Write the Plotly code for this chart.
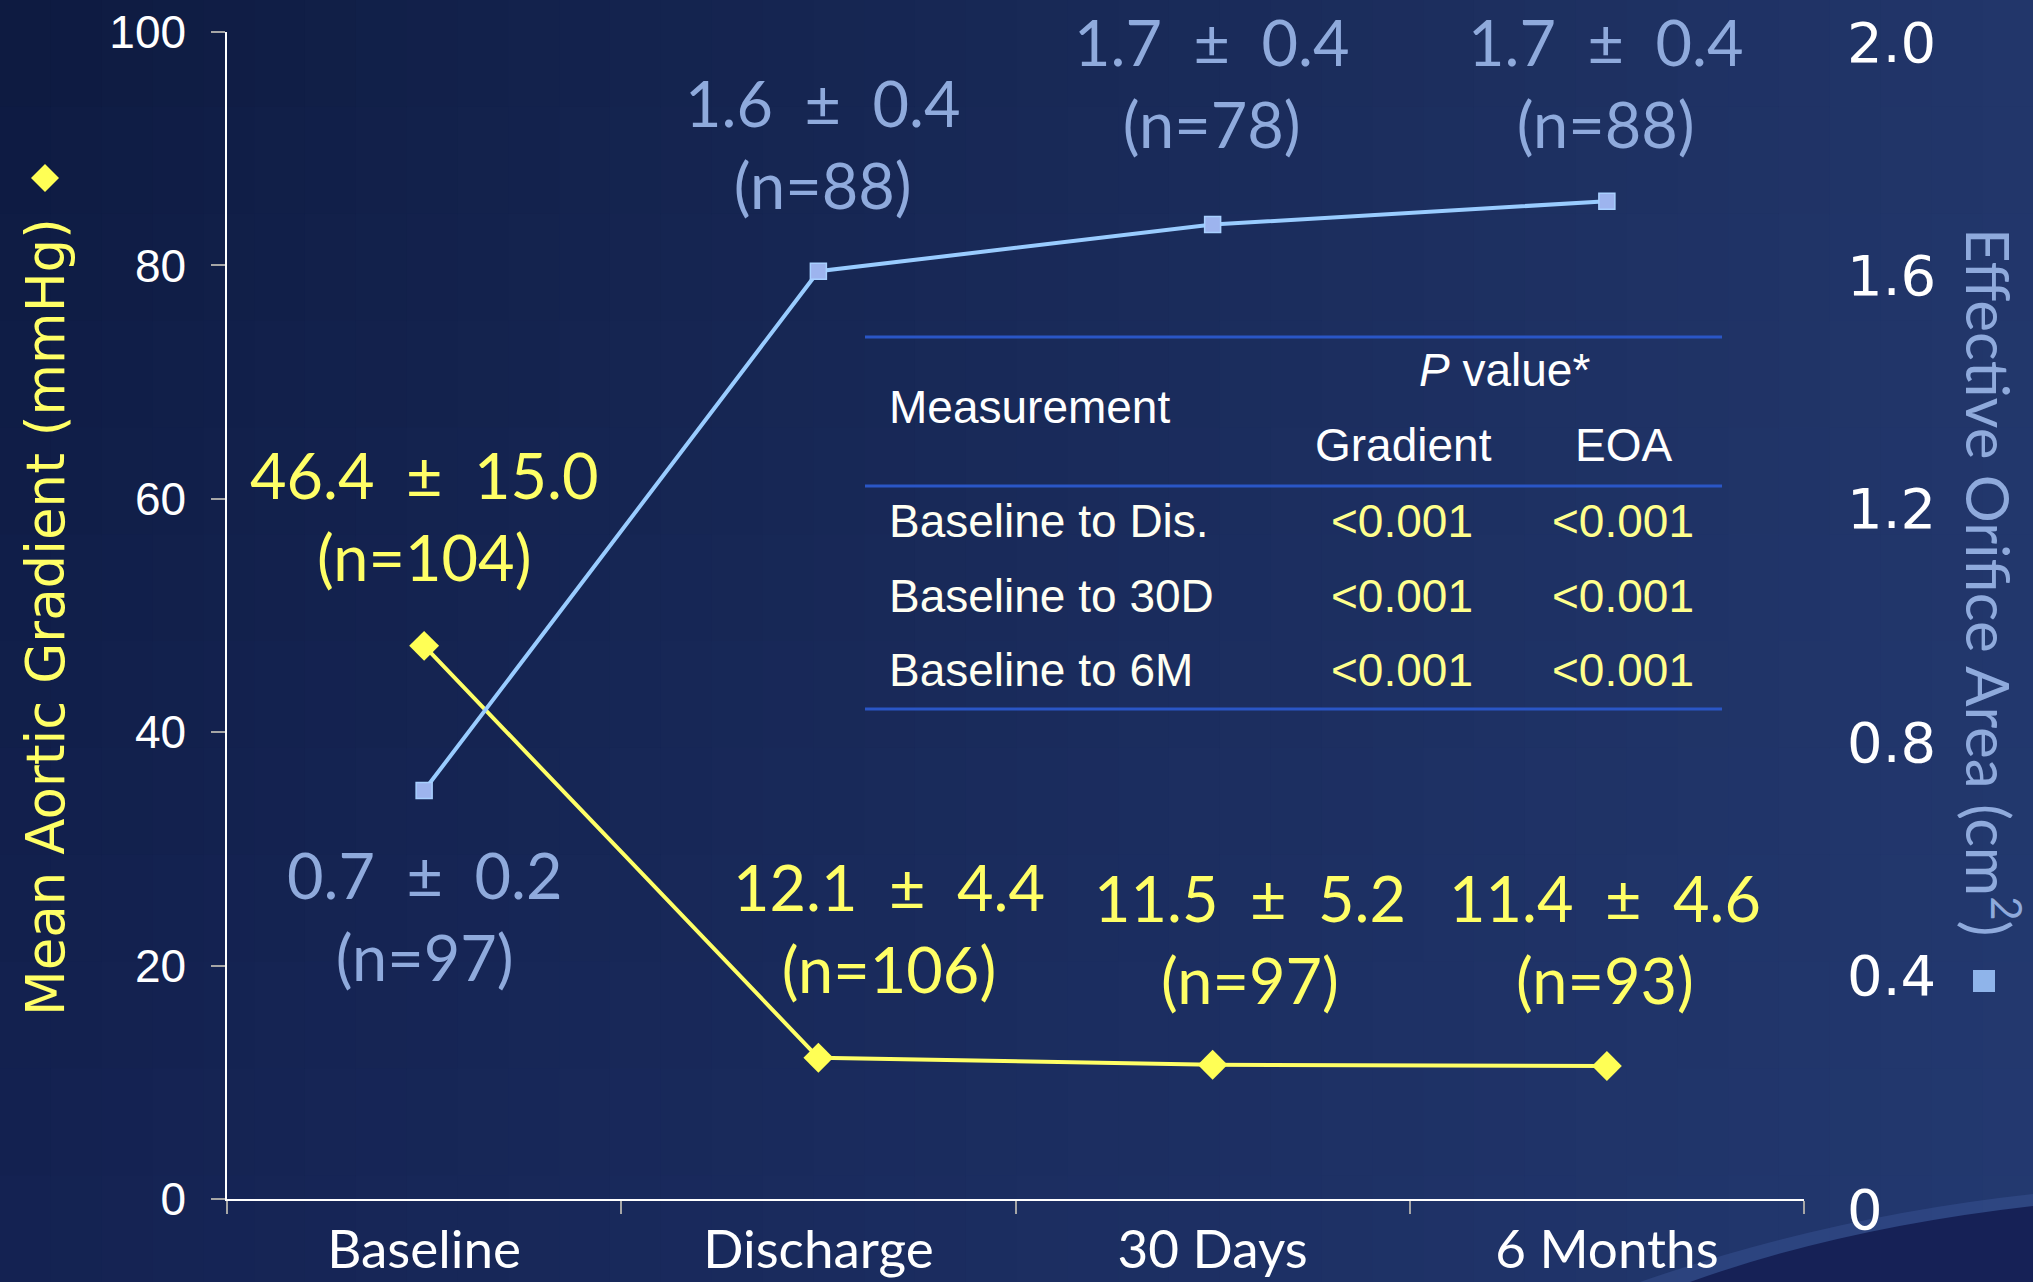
import plotly.graph_objects as go

# ---------------- data ----------------
categories = ["Baseline", "Discharge", "30 Days", "6 Months"]
gradient_mean = [47.4, 12.1, 11.5, 11.4]          # plotted (mmHg)
eoa_mean = [0.70, 1.59, 1.67, 1.71]               # plotted (cm2)
gradient_label_mean = [46.4, 12.1, 11.5, 11.4]
gradient_sd = [15.0, 4.4, 5.2, 4.6]
gradient_n = [104, 106, 97, 93]
eoa_label_mean = [0.7, 1.6, 1.7, 1.7]
eoa_sd = [0.2, 0.4, 0.4, 0.4]
eoa_n = [97, 88, 78, 88]
left_ticks = [0, 20, 40, 60, 80, 100]
right_ticks = [0, 0.4, 0.8, 1.2, 1.6, 2.0]
right_tick_text = ["0", "0.4", "0.8", "1.2", "1.6", "2.0"]
table_rows = ["Baseline to Dis.", "Baseline to 30D", "Baseline to 6M"]
p_gradient = ["<0.001", "<0.001", "<0.001"]
p_eoa = ["<0.001", "<0.001", "<0.001"]

# ---------------- layout geometry (pixels) ----------------
W, H = 2033, 1282
L, R, T, B = 227, 1804, 32, 1199


def px(xp):
    return (xp - L) / (R - L)


def py(yp):
    return (B - yp) / (B - T)


YELLOW = "#FFFF66"
BLUE_TXT = "#8FAADC"
BLUE_LINE = "#99CCFF"
CAL = "Lato, Calibri, sans-serif"
ARIAL = "Liberation Sans, Arial, sans-serif"
VERD = "DejaVu Sans, Verdana, sans-serif"

fig = go.Figure()
fig.add_trace(go.Scatter(
    x=categories, y=gradient_mean, mode="lines+markers", yaxis="y",
    line=dict(color=YELLOW, width=4),
    marker=dict(symbol="diamond", size=23, color="#FFFF55", line=dict(width=0)),
    hoverinfo="skip", showlegend=False))
fig.add_trace(go.Scatter(
    x=categories, y=eoa_mean, mode="lines+markers", yaxis="y2",
    line=dict(color=BLUE_LINE, width=4),
    marker=dict(symbol="square", size=16, color="#9DB4EE",
                line=dict(color="#A8D0FF", width=1.5)),
    hoverinfo="skip", showlegend=False))

shapes = []
# background gradient grid
TL, TR, BL, BR = (13, 26, 64), (34, 54, 106), (20, 34, 82), (35, 57, 112)
NX, NY = 40, 12
for i in range(NX):
    for j in range(NY):
        u = (i + 0.5) / NX
        v = (j + 0.5) / NY
        c = [int(round((1 - u) * (1 - v) * TL[k] + u * (1 - v) * TR[k]
                       + (1 - u) * v * BL[k] + u * v * BR[k])) for k in range(3)]
        x0p, x1p = W * i / NX, W * (i + 1) / NX + 1
        y0p, y1p = H * j / NY, H * (j + 1) / NY + 1
        shapes.append(dict(type="rect", xref="paper", yref="paper", layer="below",
                           x0=px(x0p), x1=px(x1p), y0=py(y1p), y1=py(y0p),
                           line=dict(width=0), fillcolor="rgb(%d,%d,%d)" % tuple(c)))


def path(points_cmds):
    out = []
    for cmd, pts in points_cmds:
        s = cmd
        s += " ".join("%.5f,%.5f" % (px(a), py(b)) for a, b in pts)
        out.append(s)
    return " ".join(out) + " Z"


# bottom-right swoosh: highlight then dark
shapes.append(dict(type="path", xref="paper", yref="paper", layer="below",
                   path=path([("M", [(1640, 1282)]), ("Q", [(1830, 1216), (2033, 1194)]),
                              ("L", [(2033, 1282)])]),
                   line=dict(width=0), fillcolor="rgba(75,105,175,0.28)"))
shapes.append(dict(type="path", xref="paper", yref="paper", layer="below",
                   path=path([("M", [(1690, 1282)]), ("Q", [(1840, 1228), (2033, 1206)]),
                              ("L", [(2033, 1282)])]),
                   line=dict(width=0), fillcolor="rgb(22,33,86)"))

# table lines
for yl in [337, 486, 709]:
    shapes.append(dict(type="line", xref="paper", yref="paper",
                       x0=px(865), x1=px(1722), y0=py(yl), y1=py(yl),
                       line=dict(color="#2A56C6", width=3)))

# axis-title symbols
shapes.append(dict(type="path", xref="paper", yref="paper",
                   xsizemode="pixel", ysizemode="pixel",
                   xanchor=px(45), yanchor=py(178),
                   path="M 0,-14 L 14,0 L 0,14 L -14,0 Z",
                   line=dict(width=0), fillcolor="#FFFF55"))
shapes.append(dict(type="rect", xref="paper", yref="paper",
                   xsizemode="pixel", ysizemode="pixel",
                   xanchor=px(1984), yanchor=py(981),
                   x0=-11, x1=11, y0=-11, y1=11,
                   line=dict(width=0), fillcolor="#8FB4EA"))

ann = []
# axis titles
ann.append(dict(text="Mean Aortic Gradient (mmHg)", xref="paper", yref="paper",
                x=px(45), y=py(617), textangle=-90, showarrow=False,
                xanchor="center", yanchor="middle",
                font=dict(family=VERD, size=53, color=YELLOW)))
ann.append(dict(text="Effective Orifice Area (cm<sup>2</sup>)", xref="paper", yref="paper",
                x=px(1993), y=py(582), textangle=90, showarrow=False,
                xanchor="center", yanchor="middle",
                font=dict(family=CAL, size=60, color=BLUE_TXT)))

# data labels
grad_label_pos = [(424, 515), (889, 927), (1250, 939), (1605, 939)]
eoa_label_pos = [(424, 915), (822, 143), (1211, 83), (1605, 83)]
SP = "\u2002"
for i in range(len(categories)):
    gx, gy = grad_label_pos[i]
    ann.append(dict(text="%.1f%s±%s%.1f<br>(n=%d)" % (gradient_label_mean[i], SP, SP,
                                                     gradient_sd[i], gradient_n[i]),
                    xref="paper", yref="paper", x=px(gx), y=py(gy), showarrow=False,
                    xanchor="center", yanchor="middle", align="center",
                    font=dict(family=CAL, size=63, color=YELLOW)))
    ex, ey = eoa_label_pos[i]
    ann.append(dict(text="%.1f%s±%s%.1f<br>(n=%d)" % (eoa_label_mean[i], SP, SP,
                                                     eoa_sd[i], eoa_n[i]),
                    xref="paper", yref="paper", x=px(ex), y=py(ey), showarrow=False,
                    xanchor="center", yanchor="middle", align="center",
                    font=dict(family=CAL, size=63, color=BLUE_TXT)))

# table text
TF = dict(family=ARIAL, size=46, color="white")
ann.append(dict(text="Measurement", xref="paper", yref="paper", x=px(887), y=py(407),
                xanchor="left", yanchor="middle", showarrow=False, font=TF))
ann.append(dict(text="<i>P</i> value*", xref="paper", yref="paper", x=px(1504), y=py(370),
                xanchor="center", yanchor="middle", showarrow=False, font=TF))
ann.append(dict(text="Gradient", xref="paper", yref="paper", x=px(1403), y=py(445),
                xanchor="center", yanchor="middle", showarrow=False, font=TF))
ann.append(dict(text="EOA", xref="paper", yref="paper", x=px(1623), y=py(445),
                xanchor="center", yanchor="middle", showarrow=False, font=TF))
row_y = [521, 596, 670]
for i, name in enumerate(table_rows):
    ann.append(dict(text=name, xref="paper", yref="paper", x=px(887), y=py(row_y[i]),
                    xanchor="left", yanchor="middle", showarrow=False,
                    font=dict(family=ARIAL, size=46, color="#FFFFF2")))
    ann.append(dict(text=p_gradient[i], xref="paper", yref="paper", x=px(1402), y=py(row_y[i]),
                    xanchor="center", yanchor="middle", showarrow=False,
                    font=dict(family=ARIAL, size=46, color="#FFFF8C")))
    ann.append(dict(text=p_eoa[i], xref="paper", yref="paper", x=px(1623), y=py(row_y[i]),
                    xanchor="center", yanchor="middle", showarrow=False,
                    font=dict(family=ARIAL, size=46, color="#FFFF8C")))

fig.update_layout(
    width=W, height=H, autosize=False,
    margin=dict(l=L, r=W - R, t=T, b=H - B, pad=0),
    paper_bgcolor="rgb(24,40,88)", plot_bgcolor="rgba(0,0,0,0)",
    showlegend=False, shapes=shapes, annotations=ann,
    xaxis=dict(type="category", range=[-0.5, 3.5], tickson="boundaries",
               ticks="outside", ticklen=13, tickcolor="#A6A6A6", tickwidth=1.5,
               showline=True, linecolor="white", linewidth=1.5, automargin=False,
               showgrid=False, zeroline=False, ticklabelstandoff=4,
               ticklabeloverflow="allow",
               tickfont=dict(family=CAL, size=53, color="white")),
    yaxis=dict(range=[0, 100], tickvals=left_ticks, ticks="outside", ticklen=14,
               tickcolor="#A6A6A6", tickwidth=1.5, showline=True, linecolor="white",
               linewidth=1.5, showgrid=False, zeroline=False, ticklabelstandoff=16,
               automargin=False, ticklabeloverflow="allow",
               tickfont=dict(family=ARIAL, size=46, color="white")),
    yaxis2=dict(range=[0, 2], overlaying="y", side="right", tickvals=right_ticks,
                ticktext=right_tick_text, ticks="", showline=False, showgrid=False,
                zeroline=False, ticklabelstandoff=42, ticklabelshift=10,
                automargin=False, ticklabeloverflow="allow",
                tickfont=dict(family=VERD, size=56, color="white")),
)

fig.write_html("out.html", config={"displayModeBar": False},
               post_script="document.body.style.margin='0';")
